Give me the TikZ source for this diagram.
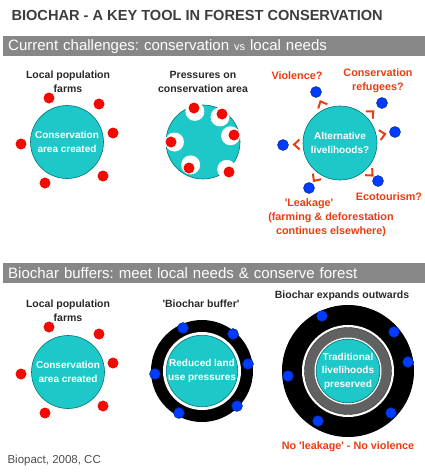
\documentclass[tikz,border=0pt]{standalone}
\usepackage{fontspec}
\setmainfont{Liberation Sans}
\usetikzlibrary{calc}
\frenchspacing

\definecolor{areacol}{RGB}{30,200,200}
\definecolor{areaedge}{RGB}{0,115,115}
\definecolor{barcol}{RGB}{135,135,135}
\definecolor{labred}{RGB}{235,60,15}
\definecolor{farmred}{RGB}{240,10,0}
\definecolor{blu}{RGB}{0,60,255}
\definecolor{inkgray}{RGB}{40,40,40}

\tikzset{
  area/.style={circle, fill=areacol, draw=areaedge, line width=0.6pt, inner sep=0pt,
    text=white, align=center, font=\fontsize{10}{13.5}\selectfont\bfseries},
  lbl/.style={text=inkgray, align=center, font=\fontsize{10.5}{14}\selectfont\bfseries},
  redlbl/.style={text=labred, align=center, font=\fontsize{10.8}{14}\selectfont\bfseries},
  bar/.style={fill=barcol, anchor=north west, minimum height=20pt, text width=412pt,
    inner xsep=5pt, inner ysep=0pt, align=left, text=white, font=\fontsize{15}{18}\selectfont},
  farm/.style={fill=farmred},
  dot/.style={fill=blu, draw=blu!50!black, line width=0.4pt},
  chev/.style={draw=labred, line width=2pt, line join=miter},
}

\begin{document}
\begin{tikzpicture}[x=1pt,y=-1pt]
\useasboundingbox (0,0) rectangle (425,472);

% title and bars
\node[anchor=west, text=inkgray!90, font=\fontsize{14.6}{16}\selectfont\bfseries] (title) at (8,15)
  {BIOCHAR - A KEY TOOL IN FOREST CONSERVATION};
\node[bar] (bar1) at (3,36) {Current challenges: conservation {\fontsize{11}{12}\selectfont vs} local needs};
\node[bar] (bar2) at (3,263) {Biochar buffers: meet local needs \& conserve forest};

% --- current challenges
\node[lbl] (l1) at (68,82) {Local population\\farms};
\node[area, minimum size=73pt] (c1) at (67,142) {Conservation\\area created};
\foreach \point in {(49,98),(99,104),(113,133),(21,144),(103,176),(45,183)}{%
  \fill[farm] \point circle (5.5pt);
}

\node[lbl] (l2) at (203,82) {Pressures on\\conservation area};
\node[area, minimum size=74pt] (c2) at (203,142) {};
\foreach \x/\y in {194/108,222/114,234/135,171/142,189/168,229/172}{%
  \fill[white] ($(\x,\y)!3.5pt!(c2)$) circle (9.5pt);
}
\foreach \x/\y in {194/108,222/114,234/135,171/142,189/168,229/172}{%
  \fill[farm] (\x,\y) circle (5.5pt);
}

\node[area, minimum size=74pt] (c3) at (340,143) {Alternative\\livelihoods?};
\foreach \x/\y [count=\i] in {316/92,382/103,395/132,283/145,378/181,309/188}{%
  \coordinate (v\i) at (\x,\y);
  \coordinate (m\i) at ($(c3)!40.5pt!(v\i)$);
  \fill[dot] (v\i) circle (5.5pt);
  \draw[chev] ($(m\i)!5pt!90:(v\i)$) -- ($(c3)!46pt!(v\i)$) -- ($(m\i)!5pt!-90:(v\i)$);
}
\node[redlbl] (viol) at (297,76) {Violence?};
\node[redlbl] (refu) at (378,81) {Conservation\\refugees?};
\node[redlbl] (eco) at (389,197) {Ecotourism?};
\node[redlbl] (leak) at (309,204) {\textquotesingle Leakage\textquotesingle};
\node[redlbl] (farming) at (331,225) {(farming \& deforestation\\continues elsewhere)};

% --- biochar buffers
\node[lbl] (l4) at (68,311) {Local population\\farms};
\node[area, minimum size=73pt] (c4) at (68,372) {Conservation\\area created};
\foreach \point in {(49,327),(99,334),(113,363),(21,374),(103,406),(45,413)}{%
  \fill[farm] \point circle (5.5pt);
}

\node[lbl] (l5) at (201,304) {\textquotesingle Biochar buffer\textquotesingle};
\coordinate (b5) at (202,371);
\fill[black] (b5) circle (51pt);
\fill[white] (b5) circle (39pt);
\node[area, minimum size=71pt] (c5) at (b5) {Reduced land\\use pressures};
\foreach \point in {(183,328),(233,334),(248,364),(155,374),(237,406),(179,413)}{%
  \fill[dot] \point circle (5.5pt);
}

\node[lbl] (l6) at (342,296) {Biochar expands outwards};
\coordinate (b6) at (348,371);
\fill[black] (b6) circle (66pt);
\fill[white] (b6) circle (46pt);
\filldraw[fill=black!62, draw=black!80] (b6) circle (43.5pt);
\fill[white] (b6) circle (33.5pt);
\node[area, minimum size=62pt] (c6) at (b6) {Traditional\\livelihoods\\preserved};
\foreach \point in {(322,316),(394,332),(408,362),(288,376),(391,413),(318,421)}{%
  \fill[dot] \point circle (5.5pt);
}
\node[redlbl] (nolk) at (348,447) {No \textquotesingle leakage\textquotesingle{} - No violence};

\node[anchor=west, text=black!70, font=\fontsize{11.5}{13}\selectfont] (credit) at (4,461) {Biopact, 2008, CC};
\end{tikzpicture}
\end{document}
